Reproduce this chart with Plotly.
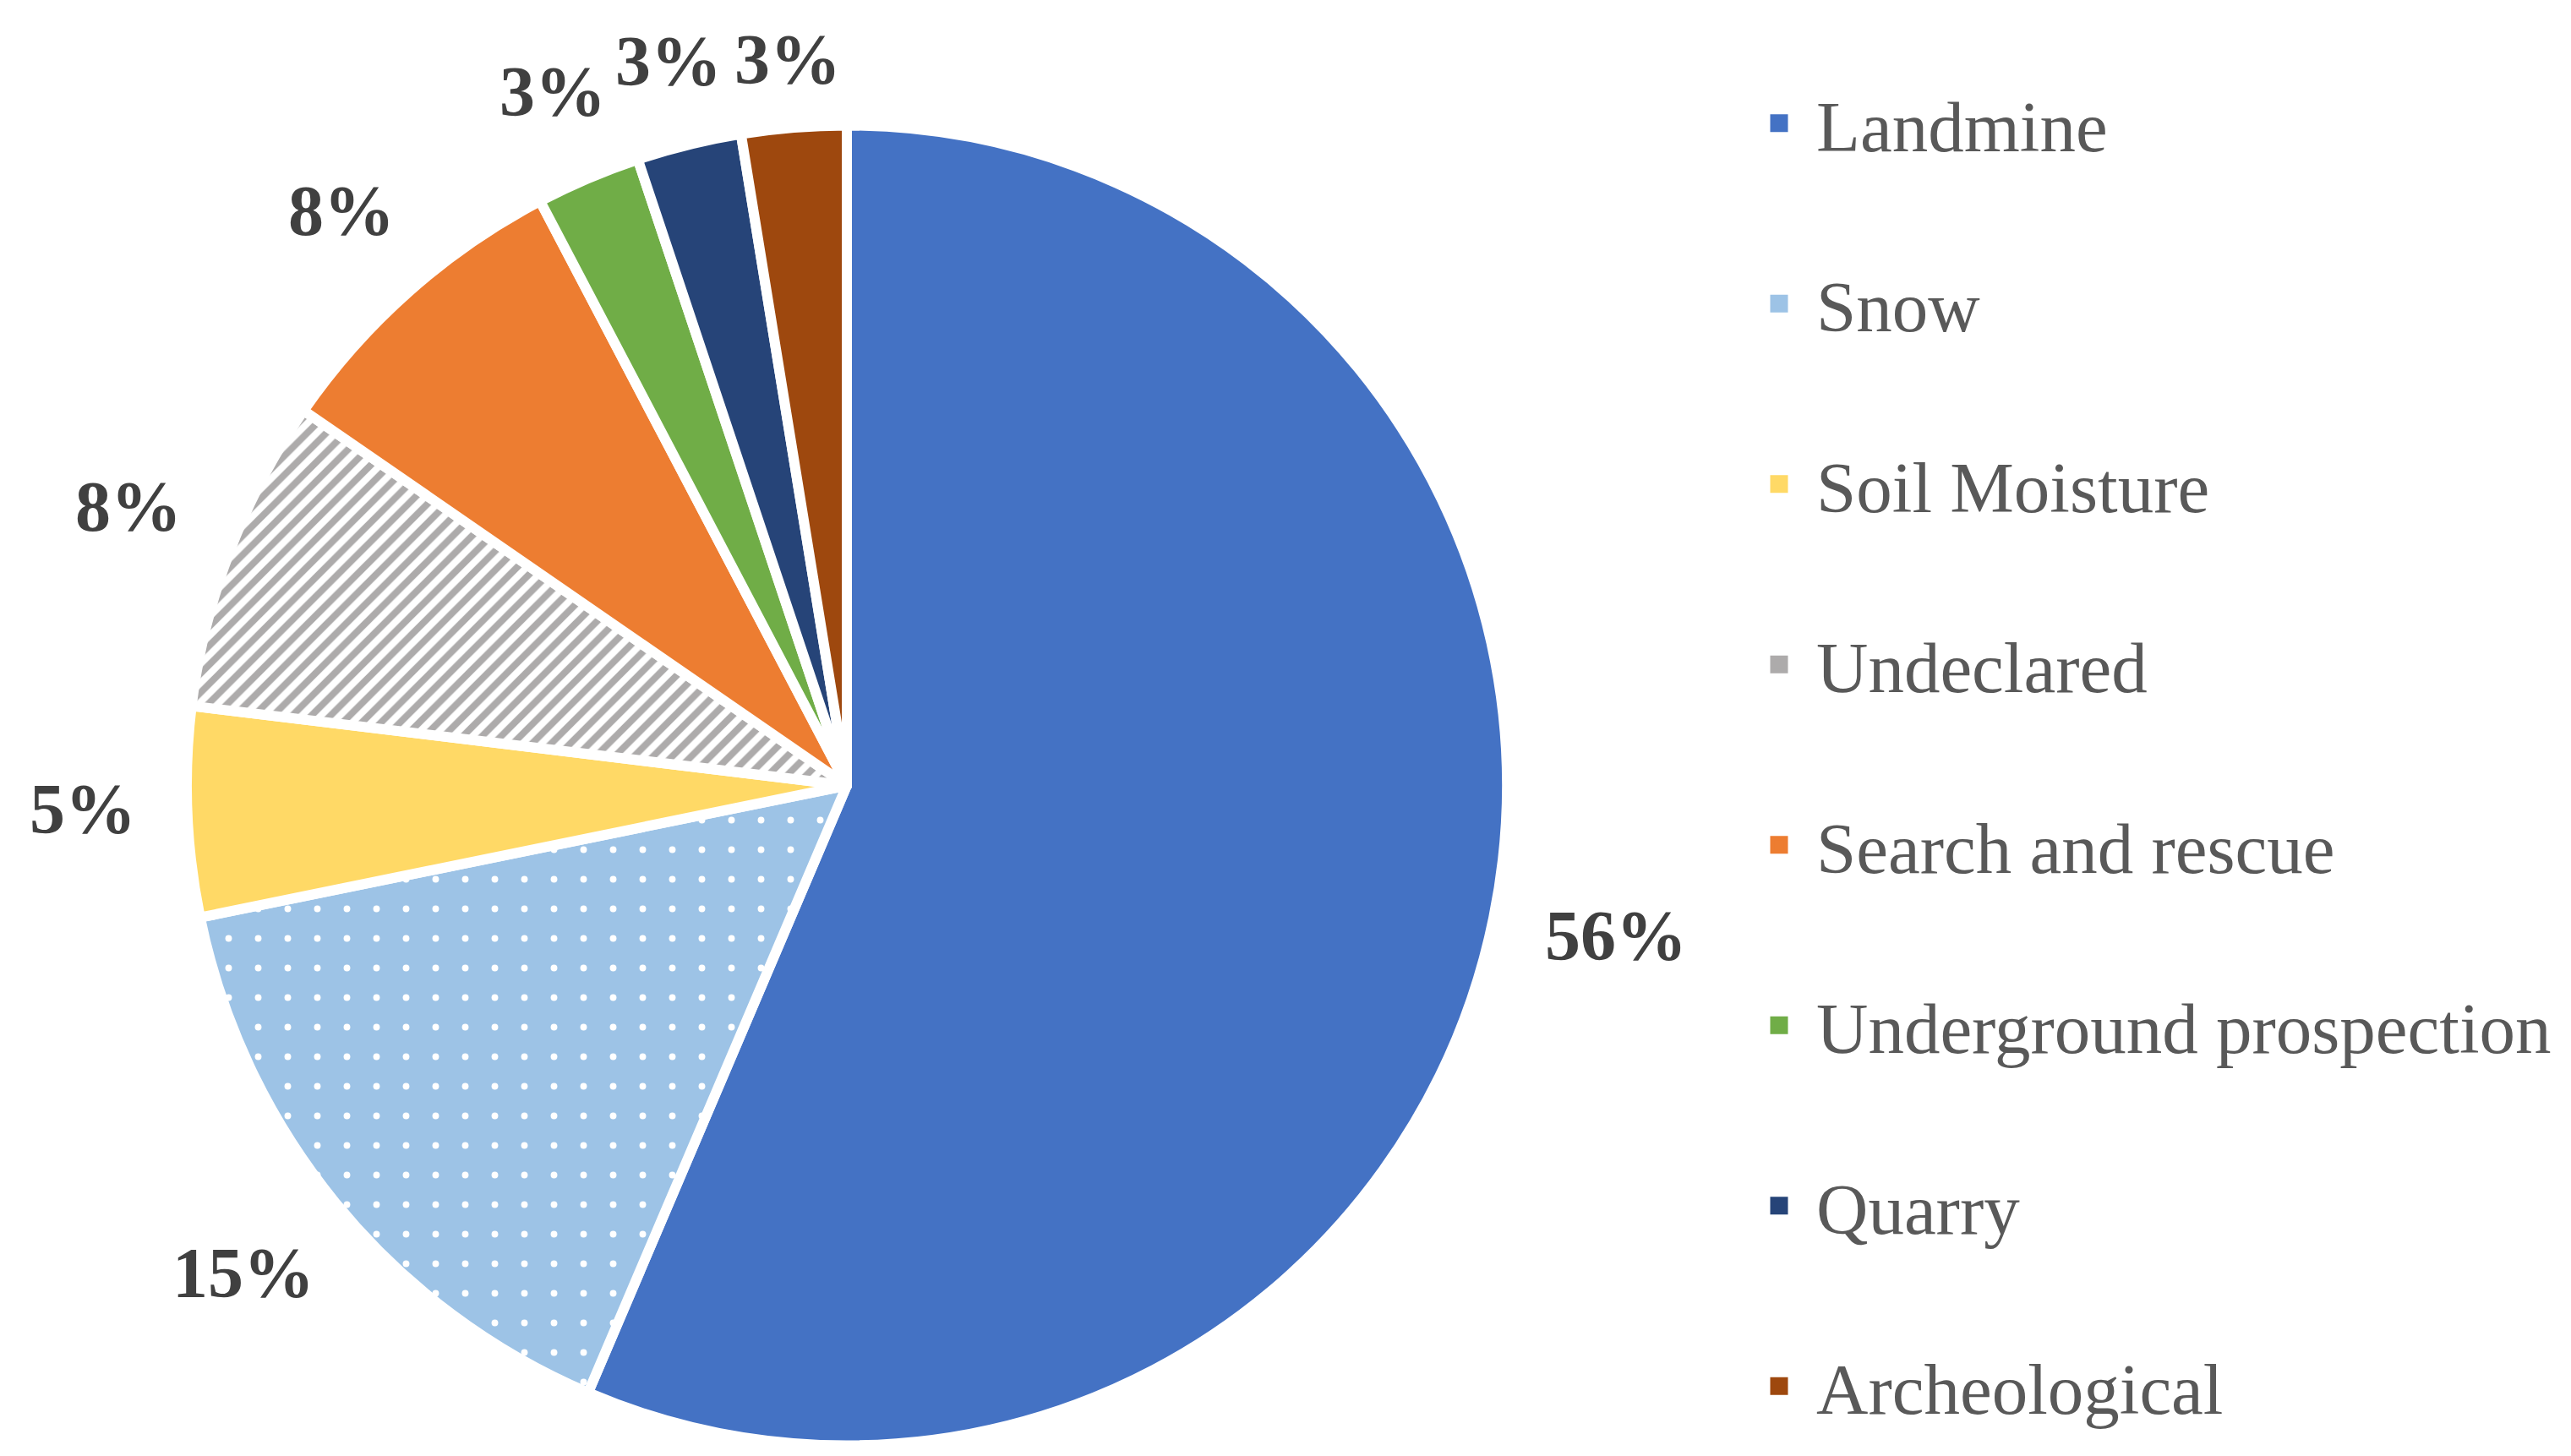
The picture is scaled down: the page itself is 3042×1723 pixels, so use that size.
import math
import plotly.graph_objects as go

# ---- data ----
labels = ["Landmine", "Snow", "Soil Moisture", "Undeclared", "Search and rescue",
          "Underground prospection", "Quarry", "Archeological"]
counts = [22, 6, 2, 3, 3, 1, 1, 1]
colors = ["#4472C4", "#9DC3E6", "#FFD966", "#FFFFFF", "#ED7D31",
          "#70AD47", "#264478", "#9E480E"]
legend_colors = ["#4472C4", "#9DC3E6", "#FFD966", "#ADABAB", "#ED7D31",
                 "#70AD47", "#264478", "#9E480E"]
pattern_shapes = ["", ".", "", "/", "", "", "", ""]
pattern_fg = ["#4472C4", "#FFFFFF", "#FFD966", "#ADABAB", "#ED7D31",
              "#70AD47", "#264478", "#9E480E"]
pattern_size = [10, 35, 10, 16, 10, 10, 10, 10]
pattern_solidity = [0.3, 0.04, 0.3, 0.5, 0.3, 0.3, 0.3, 0.3]

W, H = 3042, 1723
FONT = "Liberation Serif"
LABEL_SIZE = 84

# pie domain in pixels
X0, X1, Y0, Y1 = 213, 1775, 139, 1704
CX, CY = (X0 + X1) / 2, (Y0 + Y1) / 2
R = min(X1 - X0, Y1 - Y0) / 2

fig = go.Figure()

fig.add_trace(go.Pie(
    labels=labels,
    values=counts,
    sort=False,
    direction="clockwise",
    rotation=0,
    showlegend=False,
    textinfo="none",
    marker=dict(
        colors=colors,
        line=dict(color="white", width=12),
        pattern=dict(shape=pattern_shapes, fgcolor=pattern_fg, bgcolor=colors,
                     size=pattern_size, solidity=pattern_solidity),
    ),
    domain=dict(x=[X0 / W, X1 / W], y=[1 - Y1 / H, 1 - Y0 / H]),
    hoverinfo="label+percent",
))

# percentage labels placed outside each slice along its mid-angle
total = sum(counts)
cum = 0
gap = 60
for v in counts:
    theta = 2 * math.pi * (cum + v / 2) / total
    cum += v
    txt = f"{round(100 * v / total)}%"
    ux, uy = math.sin(theta), -math.cos(theta)
    hw = 0.5 * LABEL_SIZE * (0.5 * (len(txt) - 1) + 1.0)
    hh = 0.3 * LABEL_SIZE
    r = R + gap + abs(ux) * hw + abs(uy) * hh
    px, py = CX + r * ux, CY + r * uy
    py = max(py - 8 * abs(ux), 0.74 * LABEL_SIZE)
    fig.add_annotation(
        x=px / W, y=1 - py / H, xref="paper", yref="paper",
        text=f"<b>{txt}</b>", showarrow=False,
        xanchor="center", yanchor="middle",
        font=dict(family=FONT, size=LABEL_SIZE, color="#404040"),
    )

for lab, col in zip(labels, legend_colors):
    fig.add_trace(go.Scatter(
        x=[None], y=[None], mode="markers", name=lab, legendgroup=lab,
        marker=dict(symbol="square", size=16, color=col, line=dict(color=col, width=5)),
        showlegend=True, hoverinfo="skip",
    ))

fig.update_layout(
    width=W, height=H,
    margin=dict(l=0, r=0, t=0, b=0),
    paper_bgcolor="white", plot_bgcolor="white",
    xaxis=dict(visible=False), yaxis=dict(visible=False),
    showlegend=True,
    legend=dict(
        x=2053 / W, xanchor="left",
        y=1 - 76 / H, yanchor="top",
        font=dict(family=FONT, size=85, color="#595959"),
        tracegroupgap=100,
        itemwidth=78,
        bgcolor="rgba(0,0,0,0)",
        itemsizing="trace",
    ),
)

fig.write_html("out.html")
